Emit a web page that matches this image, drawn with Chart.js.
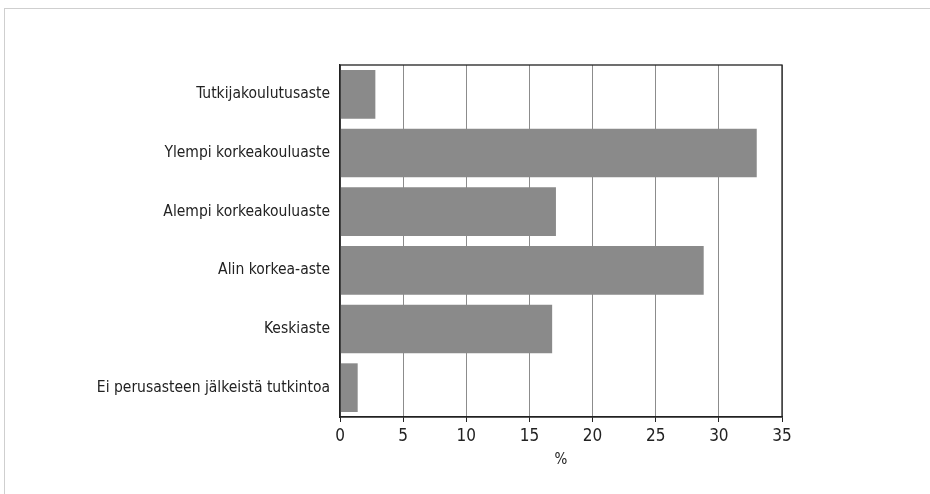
<!DOCTYPE html>
<html>
<head>
<meta charset="utf-8">
<script src="https://cdn.jsdelivr.net/npm/chart.js@4"></script>
<style>
  html, body { margin: 0; padding: 0; background: #fff; }
  #wrap { position: relative; width: 930px; height: 494px; }
  #frame { position: absolute; left: 4px; top: 8px; width: 940px; height: 500px;
    border-left: 1px solid #cfcfcf; border-top: 1px solid #cfcfcf; }
  canvas { position: absolute; left: 0; top: 0; }
</style>
</head>
<body>
<div id="wrap">
  <div id="frame"></div>
  <canvas id="c" width="930" height="494"></canvas>
</div>
<script>
const kategoriat = [
  "Tutkijakoulutusaste",
  "Ylempi korkeakouluaste",
  "Alempi korkeakouluaste",
  "Alin korkea-aste",
  "Keskiaste",
  "Ei perusasteen jälkeistä tutkintoa"
];
const osuudet = [2.8, 33.0, 17.1, 28.8, 16.8, 1.4];
const xTicks = [0, 5, 10, 15, 20, 25, 30, 35];

const fontti = "'Liberation Sans Narrow', 'DejaVu Sans Condensed', sans-serif";

// kehys piirtoalueen ympärille
const kehys = {
  id: "kehys",
  afterDraw(chart) {
    const a = chart.chartArea;
    const ctx = chart.ctx;
    ctx.save();
    ctx.strokeStyle = "#222";
    ctx.lineWidth = 1.3;
    ctx.strokeRect(a.left, a.top, a.right - a.left, a.bottom - a.top);
    ctx.restore();
  }
};

new Chart(document.getElementById("c"), {
  type: "bar",
  data: {
    labels: kategoriat,
    datasets: [{
      data: osuudet,
      backgroundColor: "#8a8a8a",
      barPercentage: 0.83,
      categoryPercentage: 1
    }]
  },
  plugins: [kehys],
  options: {
    indexAxis: "y",
    responsive: false,
    animation: false,
    layout: { padding: { top: 65, right: 148, bottom: 15, left: 0 } },
    plugins: { legend: { display: false }, tooltip: { enabled: false } },
    scales: {
      x: {
        min: 0,
        max: 35,
        afterBuildTicks: (s) => { s.ticks = xTicks.map(v => ({ value: v })); },
        grid: { color: "#8c8c8c", lineWidth: 1, tickLength: 5, tickColor: "#222", drawTicks: true },
        border: { color: "#222", width: 1.3 },
        ticks: { color: "#222", font: { family: fontti, size: 17 }, padding: 4, maxRotation: 0 },
        title: { display: true, text: "%", color: "#222", font: { family: fontti, size: 15 }, padding: { top: 2, bottom: 10 } },
        afterFit: (s) => { s.height = 62; }
      },
      y: {
        grid: { display: false },
        border: { color: "#222", width: 1.3 },
        ticks: { color: "#222", font: { family: fontti, size: 15.5 }, padding: 2 },
        afterFit: (s) => { s.width = 340; }
      }
    }
  }
});
</script>
</body>
</html>
